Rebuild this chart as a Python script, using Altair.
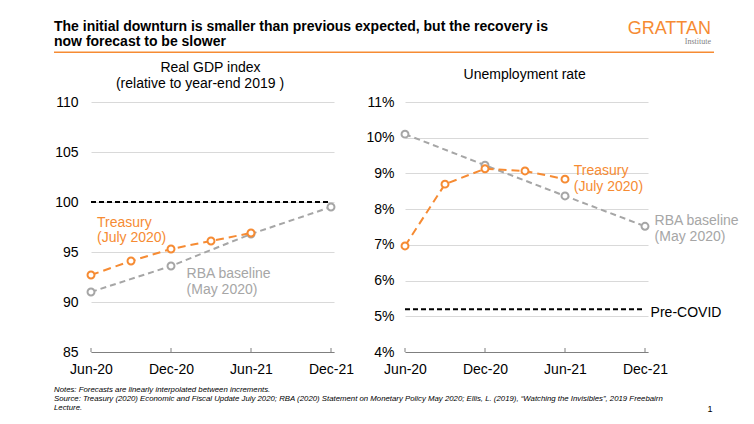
import altair as alt
import pandas as pd

ORANGE = "#F68B33"
GREY = "#A6A6A6"
GRID = "#D9D9D9"
AXIS = "#7F7F7F"
FONT = "Liberation Sans"

# quarter index: 0=Jun-20, 1=Sep-20, 2=Dec-20, 3=Mar-21, 4=Jun-21, 5=Sep-21, 6=Dec-21
tick_values = [0, 2, 4, 6]
tick_labels = ["Jun-20", "Dec-20", "Jun-21", "Dec-21"]

gdp_treasury_q = [0, 1, 2, 3, 4]
gdp_treasury = [92.7, 94.1, 95.3, 96.1, 96.9]
gdp_rba_q = [0, 2, 4, 6]
gdp_rba = [91.0, 93.6, 96.8, 99.5]
gdp_ref = [100]
gdp_ticks = [85, 90, 95, 100, 105, 110]

ur_treasury_q = [0, 1, 2, 3, 4]
ur_treasury = [6.97, 8.70, 9.13, 9.07, 8.84]
ur_rba_q = [0, 2, 4, 6]
ur_rba = [10.10, 9.23, 8.37, 7.52]
ur_precovid = [5.2]
ur_ticks = [4, 5, 6, 7, 8, 9, 10, 11]

# annotation labels (in data coordinates)
gdp_treas_lab = ["Treasury", "(July 2020)"]
gdp_treas_lab_q = [0.15, 0.15]
gdp_treas_lab_v = [97.95, 96.45]
gdp_rba_lab = ["RBA baseline", "(May 2020)"]
gdp_rba_lab_q = [2.39, 2.39]
gdp_rba_lab_v = [92.8, 91.2]

ur_treas_lab = ["Treasury", "(July 2020)"]
ur_treas_lab_q = [4.22, 4.22]
ur_treas_lab_v = [9.06, 8.62]
ur_rba_lab = ["RBA baseline", "(May 2020)"]
ur_rba_lab_q = [6.24, 6.24]
ur_rba_lab_v = [7.66, 7.22]
ur_pre_lab = ["Pre-COVID"]
ur_pre_lab_q = [6.14]
ur_pre_lab_v = [5.08]

title_lines = [
    "The initial downturn is smaller than previous expected, but the recovery is",
    "now forecast to be slower",
]
gdp_title = ["Real GDP index", "(relative to year-end 2019 )"]
ur_title = ["Unemployment rate"]
notes = [
    "Notes: Forecasts are linearly interpolated between increments.",
    "Source: Treasury (2020) Economic and Fiscal Update July 2020; RBA (2020) Statement on Monetary Policy May 2020; Ellis, L. (2019), \u201cWatching the Invisibles\u201d, 2019 Freebairn",
    "Lecture.",
]
logo = "GRATTAN"
logo_sub = "Institute"
page_no = "1"

W, H = 243, 250
XMAX = 6.075

label_expr = "{" + ",".join(f"'{v}':'{l}'" for v, l in zip(tick_values, tick_labels)) + "}[datum.value]"


def xenc(field="q"):
    return alt.X(f"{field}:Q", scale=alt.Scale(domain=[0, XMAX], nice=False, zero=False),
                 axis=alt.Axis(values=tick_values, labelExpr=label_expr, grid=False, ticks=False,
                               domainColor=AXIS, domainWidth=1, labelPadding=10, title=None,
                               labelFlush=False, labelOverlap=False,
                               labelFontSize=14, labelFont=FONT, labelColor="#000000"))


def yenc(dom, ticks, fmt_expr, pad, field="v"):
    return alt.Y(f"{field}:Q", scale=alt.Scale(domain=dom, nice=False, zero=False),
                 axis=alt.Axis(values=ticks, labelExpr=fmt_expr, grid=True, gridColor=GRID,
                               gridWidth=1, domain=False, ticks=False, labelPadding=pad,
                               labelFlush=False, labelOverlap=False,
                               title=None, labelFontSize=14, labelFont=FONT, labelColor="#000000"))


def txt(s, x, y, size=14, color="#000000", align="left", weight="normal", style="normal",
        font=FONT, baseline="alphabetic"):
    return alt.Chart(alt.Data(values=[{"t": s}])).mark_text(
        align=align, baseline=baseline, fontSize=size, color=color, fontWeight=weight,
        fontStyle=style, font=font).encode(text="t:N", x=alt.value(x), y=alt.value(y))


def panel(tq, tv, rq, rv, ref, dom, ticks, fmt_expr, pad, labels, extra):
    X = xenc()
    Y = yenc(dom, ticks, fmt_expr, pad)
    tdf = pd.DataFrame({"q": tq, "v": tv})
    rdf = pd.DataFrame({"q": rq, "v": rv})
    refdf = pd.DataFrame({"q": [tick_values[0]], "q2": [tick_values[-1]], "v": ref})
    tickdf = pd.DataFrame({"q": tick_values, "v": [dom[0]] * len(tick_values)})

    layers = []
    layers.append(alt.Chart(tickdf).mark_rule(color=AXIS, strokeWidth=1).encode(
        x=X, y=alt.value(H - 4), y2=alt.value(H)))
    layers.append(alt.Chart(tickdf).mark_point(opacity=0).encode(x=X, y=Y))
    layers.append(alt.Chart(refdf).mark_rule(color="#000000", strokeDash=[5, 3], strokeWidth=2).encode(
        x=X, x2="q2:Q", y=Y))
    for df, col, dash in [(rdf, GREY, [6, 4]), (tdf, ORANGE, [8, 5])]:
        layers.append(alt.Chart(df).mark_line(color=col, strokeDash=dash, strokeWidth=2).encode(x=X, y=Y))
        layers.append(alt.Chart(df).mark_point(shape="circle", filled=True, fill="white", stroke=col,
                                               strokeWidth=2, size=48, opacity=1).encode(x=X, y=Y))
    for texts, qs, vs, col in labels:
        ldf = pd.DataFrame({"t": texts, "q": qs, "v": vs})
        layers.append(alt.Chart(ldf).mark_text(align="left", baseline="middle", fontSize=14,
                                               font=FONT, color=col).encode(x=X, y=Y, text="t:N"))
    layers.extend(extra)
    return alt.layer(*layers).properties(width=W, height=H)


left_extra = [
    txt(title_lines[0], -37, -71.2, size=14, weight="bold"),
    txt(title_lines[1], -37, -56.2, size=14, weight="bold"),
    txt(logo, 620, -68.4, size=18, color=ORANGE, align="right"),
    txt(logo_sub, 620, -57.7, size=8, color=AXIS, align="right", font="Liberation Serif"),
    alt.Chart(alt.Data(values=[{}])).mark_rule(color=ORANGE, strokeWidth=1.5).encode(
        x=alt.value(-37), x2=alt.value(623), y=alt.value(-49.7)),
    txt(gdp_title[0], 119.5, -30, align="center"),
    txt(gdp_title[1], 109, -14.5, align="center"),
    txt(notes[0], -37, 290, size=7.8, style="italic"),
    txt(notes[1], -37, 299, size=7.8, style="italic"),
    txt(notes[2], -37, 308, size=7.8, style="italic"),
    txt(page_no, 619, 310, size=9, align="center"),
]

right_extra = [
    txt(ur_title[0], 119.7, -23.4, align="center"),
]

left = panel(gdp_treasury_q, gdp_treasury, gdp_rba_q, gdp_rba, gdp_ref, [85, 110], gdp_ticks,
             "datum.value", 13,
             [(gdp_treas_lab, gdp_treas_lab_q, gdp_treas_lab_v, ORANGE),
              (gdp_rba_lab, gdp_rba_lab_q, gdp_rba_lab_v, GREY)],
             left_extra)

right = panel(ur_treasury_q, ur_treasury, ur_rba_q, ur_rba, ur_precovid, [4, 11], ur_ticks,
              "datum.value + '%'", 11,
              [(ur_treas_lab, ur_treas_lab_q, ur_treas_lab_v, ORANGE),
               (ur_rba_lab, ur_rba_lab_q, ur_rba_lab_v, GREY),
               (ur_pre_lab, ur_pre_lab_q, ur_pre_lab_v, "#000000")],
              right_extra)

chart = alt.hconcat(left, right, spacing=71, bounds="flush").properties(
    padding={"left": 45, "top": 11, "right": 5, "bottom": 5},
    background="white",
).configure_view(stroke=None).configure_axis(labelFont=FONT)

chart.save("out.html", embed_options={"renderer": "svg", "actions": False})
